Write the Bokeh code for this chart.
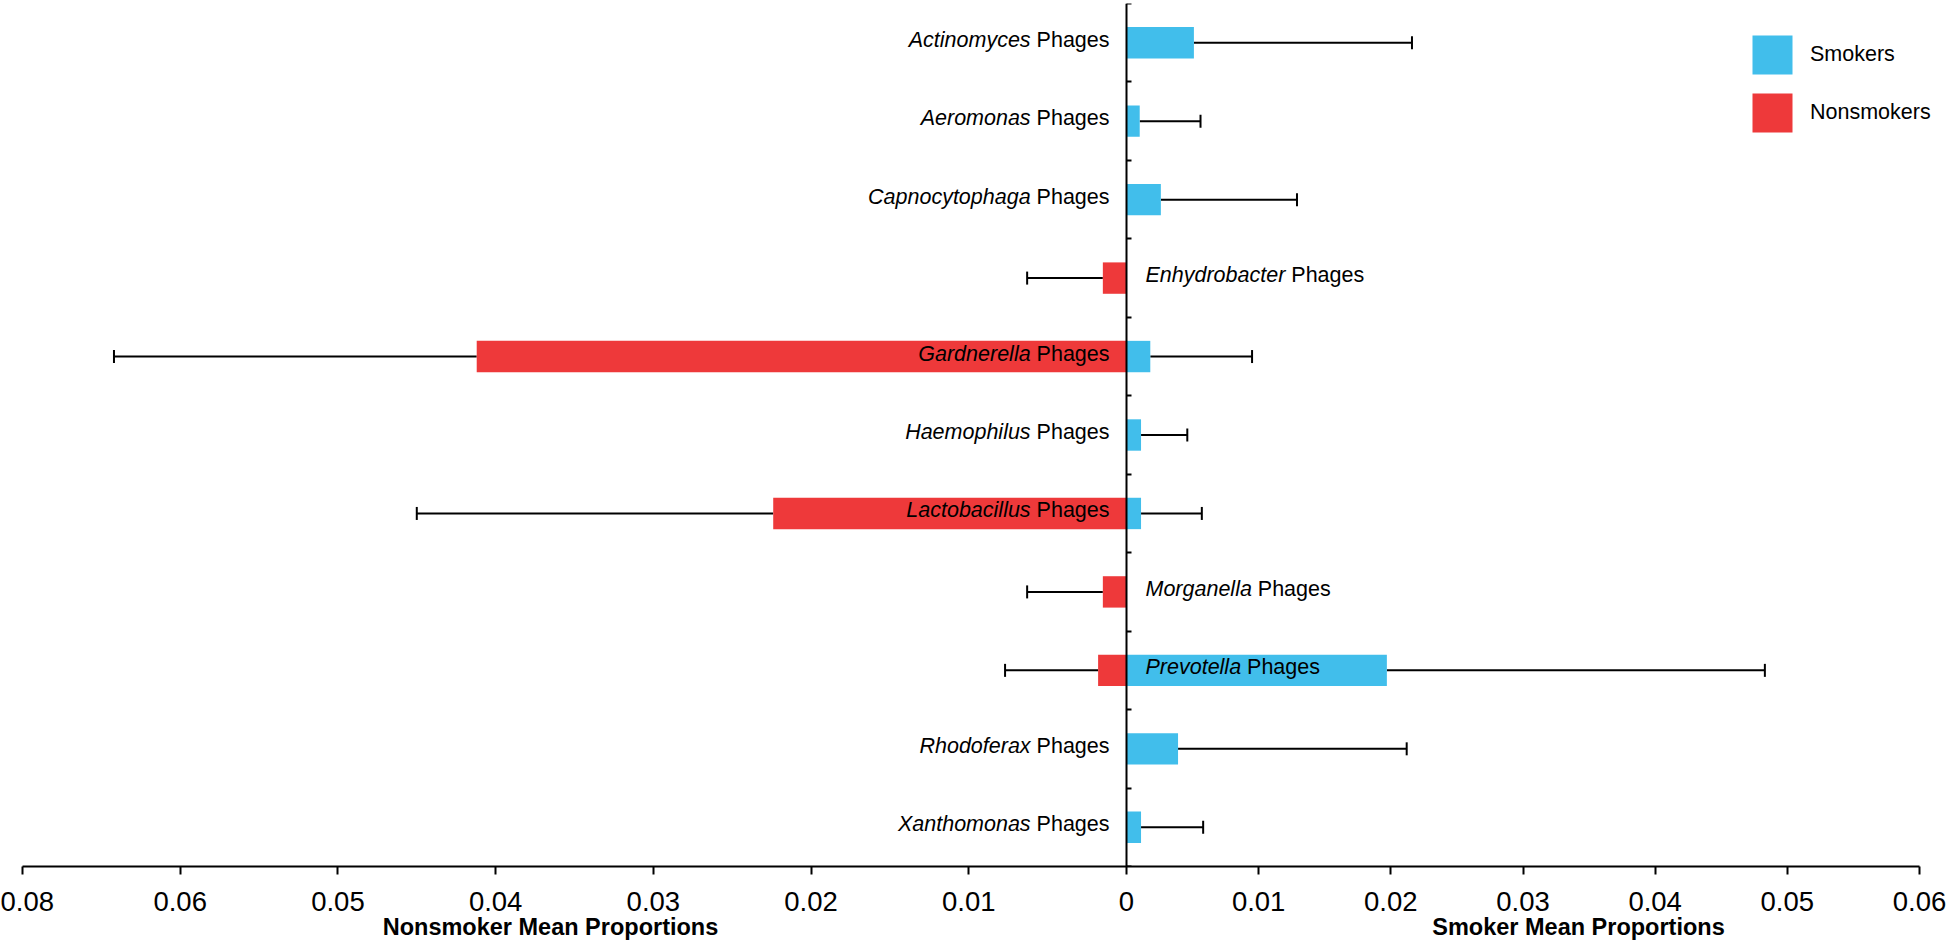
from bokeh.plotting import figure
from bokeh.models import (Range1d, LinearAxis, FixedTicker, ColumnDataSource, Whisker,
                          TeeHead, Legend, LegendItem)
from bokeh.core.properties import value
from bokeh.embed import file_html
from bokeh.resources import INLINE

# ---------------- data ----------------
genera = ["Actinomyces", "Aeromonas", "Capnocytophaga", "Enhydrobacter", "Gardnerella",
          "Haemophilus", "Lactobacillus", "Morganella", "Prevotella", "Rhodoferax",
          "Xanthomonas"]
label_suffix = "Phages"

smoker_mean = [0.0051, 0.0010, 0.0026, 0.0, 0.0018, 0.0011, 0.0011, 0.0, 0.0197, 0.0039, 0.0011]
smoker_sd = [0.0165, 0.0046, 0.0103, 0.0, 0.0077, 0.0035, 0.0046, 0.0, 0.0286, 0.0173, 0.0047]
nonsmoker_mean = [0.0, 0.0, 0.0, 0.0015, 0.0412, 0.0, 0.0224, 0.0015, 0.0018, 0.0, 0.0]
nonsmoker_sd = [0.0, 0.0, 0.0, 0.0048, 0.0230, 0.0, 0.0226, 0.0048, 0.0059, 0.0, 0.0]

left_tick_values = [0.07, 0.06, 0.05, 0.04, 0.03, 0.02, 0.01]
left_tick_labels = ["0.08", "0.06", "0.05", "0.04", "0.03", "0.02", "0.01"]
right_tick_values = [0.0, 0.01, 0.02, 0.03, 0.04, 0.05, 0.06]
right_tick_labels = ["0", "0.01", "0.02", "0.03", "0.04", "0.05", "0.06"]

nonsmoker_axis_title = "Nonsmoker Mean Proportions"
smoker_axis_title = "Smoker Mean Proportions"
legend_labels = ["Smokers", "Nonsmokers"]

# ---------------- style / layout ----------------
FONT = "Liberation Sans"
BLUE = "#41BEEB"
RED = "#EE393A"
LEFT_PX, RIGHT_PX, EXTRA_PX, FRAME_H = 1104, 793, 21, 863
NON_MAX, SMK_MAX = 0.07, 0.06
LABEL_SIZE = 21.5
GAP_L, GAP_R = 17, 19
TITLE_CENTERS_PX = (-576, 452)   # axis-title centres, pixels from the zero line

smk_per_px = SMK_MAX / RIGHT_PX
non_per_px = NON_MAX / LEFT_PX
n = len(genera)

x_start = -LEFT_PX * smk_per_px
p = figure(frame_width=LEFT_PX + RIGHT_PX + EXTRA_PX, frame_height=FRAME_H,
           x_range=Range1d(x_start, SMK_MAX + EXTRA_PX * smk_per_px),
           y_range=Range1d(n - 0.5, -0.5),
           x_axis_location=None, y_axis_location=None,
           output_backend="svg", toolbar_location=None,
           min_border_left=22, min_border_right=6, min_border_top=3, min_border_bottom=84)
p.extra_x_ranges = {"non": Range1d(NON_MAX, -(RIGHT_PX + EXTRA_PX) * non_per_px)}
p.outline_line_color = None
p.background_fill_color = "white"
p.border_fill_color = "white"
p.grid.visible = False

# ---------------- bars & error bars ----------------
s_idx = [i for i in range(n) if smoker_mean[i] > 0]
n_idx = [i for i in range(n) if nonsmoker_mean[i] > 0]
src_s = ColumnDataSource(dict(
    y=s_idx,
    mean=[smoker_mean[i] for i in s_idx],
    upper=[smoker_mean[i] + smoker_sd[i] for i in s_idx]))
src_n = ColumnDataSource(dict(
    y=n_idx,
    mean=[nonsmoker_mean[i] for i in n_idx],
    upper=[nonsmoker_mean[i] + nonsmoker_sd[i] for i in n_idx]))

r_s = p.hbar(y="y", left=0, right="mean", height=0.4, source=src_s,
             fill_color=BLUE, line_color=None)
r_n = p.hbar(y="y", left=0, right="mean", height=0.4, source=src_n,
             fill_color=RED, line_color=None, x_range_name="non")

for src, rng in ((src_s, "default"), (src_n, "non")):
    w = Whisker(source=src, base="y", lower="mean", upper="upper", dimension="width",
                line_color="black", line_width=2, x_range_name=rng,
                upper_head=TeeHead(size=13, line_width=2, line_color="black"),
                lower_head=None)
    p.add_layout(w)

# ---------------- axes ----------------
to_smk = (LEFT_PX * smk_per_px) / NON_MAX
left_pos = [round(-v * to_smk, 12) for v in left_tick_values]
overrides = {pos: lab for pos, lab in zip(left_pos, left_tick_labels)}
overrides.update({pos: lab for pos, lab in zip(right_tick_values, right_tick_labels)})

xaxis = LinearAxis(ticker=FixedTicker(ticks=left_pos + right_tick_values),
                   major_label_overrides=overrides, bounds=(x_start, SMK_MAX),
                   axis_line_width=2, axis_line_color="black",
                   major_tick_line_width=2, major_tick_line_color="black",
                   major_tick_out=8, major_tick_in=0,
                   minor_tick_line_color=None,
                   major_label_text_font=FONT, major_label_text_font_size="27.5px",
                   major_label_text_color="black", major_label_standoff=17)
p.add_layout(xaxis, "below")

# axis titles, set as the labels of a second, line-less axis under the first
title_pos = [round(px * smk_per_px, 12) for px in TITLE_CENTERS_PX]
title_axis = LinearAxis(ticker=FixedTicker(ticks=title_pos),
                        major_label_overrides={title_pos[0]: nonsmoker_axis_title,
                                               title_pos[1]: smoker_axis_title},
                        axis_line_color=None, major_tick_line_color=None,
                        minor_tick_line_color=None, major_tick_out=0, major_tick_in=0,
                        major_label_standoff=0,
                        major_label_text_font=FONT, major_label_text_font_size="23.5px",
                        major_label_text_font_style="bold", major_label_text_color="black")
p.add_layout(title_axis, "below")

yaxis = LinearAxis(fixed_location=0,
                   ticker=FixedTicker(ticks=[i - 0.5 for i in range(n + 1)]),
                   axis_line_width=2, axis_line_color="black",
                   major_tick_line_width=2, major_tick_line_color="black",
                   major_tick_in=5, major_tick_out=0,
                   minor_tick_line_color=None,
                   major_label_text_color=None, major_label_text_font_size="1px",
                   major_label_standoff=0)
p.add_layout(yaxis, "left")

# ---------------- category labels ----------------
W = {' ': 278, 'A': 667, 'C': 722, 'E': 667, 'G': 778, 'H': 722, 'L': 556, 'M': 833,
     'P': 667, 'R': 722, 'X': 667, 'a': 556, 'b': 556, 'c': 500, 'd': 556, 'e': 556,
     'f': 278, 'g': 556, 'h': 556, 'i': 222, 'k': 500, 'l': 222, 'm': 833, 'n': 556,
     'o': 556, 'p': 556, 'r': 333, 's': 500, 't': 278, 'u': 556, 'v': 500, 'x': 500,
     'y': 500}


def tw(s):
    return sum(W.get(c, 556) for c in s) / 1000.0 * LABEL_SIZE


left_rows, right_rows = [], []
for i in range(n):
    sm, nm = smoker_mean[i], nonsmoker_mean[i]
    if nm == 0 or (nm > sm and sm > 0):
        left_rows.append(i)
    else:
        right_rows.append(i)

src_ll = ColumnDataSource(dict(y=left_rows, genus=[genera[i] for i in left_rows],
                               suffix=[label_suffix] * len(left_rows)))
src_rl = ColumnDataSource(dict(y=right_rows, genus=[genera[i] for i in right_rows],
                               suffix=[label_suffix] * len(right_rows),
                               soff=[GAP_R + tw(genera[i] + " ") for i in right_rows]))

common = dict(x=0, y="y", text_font=value(FONT), text_font_size=f"{LABEL_SIZE}px",
              text_color="black", text_baseline="middle", y_offset=-3)
p.text(text="suffix", source=src_ll, text_align="right", x_offset=-GAP_L, **common)
p.text(text="genus", source=src_ll, text_align="right", text_font_style="italic",
       x_offset=-GAP_L - tw(" " + label_suffix), **common)
p.text(text="genus", source=src_rl, text_align="left", text_font_style="italic",
       x_offset=GAP_R, **common)
p.text(text="suffix", source=src_rl, text_align="left", x_offset="soff", **common)

# ---------------- legend ----------------
legend = Legend(items=[LegendItem(label=legend_labels[0], renderers=[r_s]),
                       LegendItem(label=legend_labels[1], renderers=[r_n])],
                location=(1725, 729), orientation="vertical",
                glyph_width=50, glyph_height=49, label_standoff=13, spacing=9,
                padding=0, margin=0, border_line_color=None, background_fill_alpha=0,
                label_text_font=FONT, label_text_font_size=f"{LABEL_SIZE}px",
                label_text_color="black")
p.add_layout(legend)

open("out.html", "w").write(file_html(p, INLINE))
